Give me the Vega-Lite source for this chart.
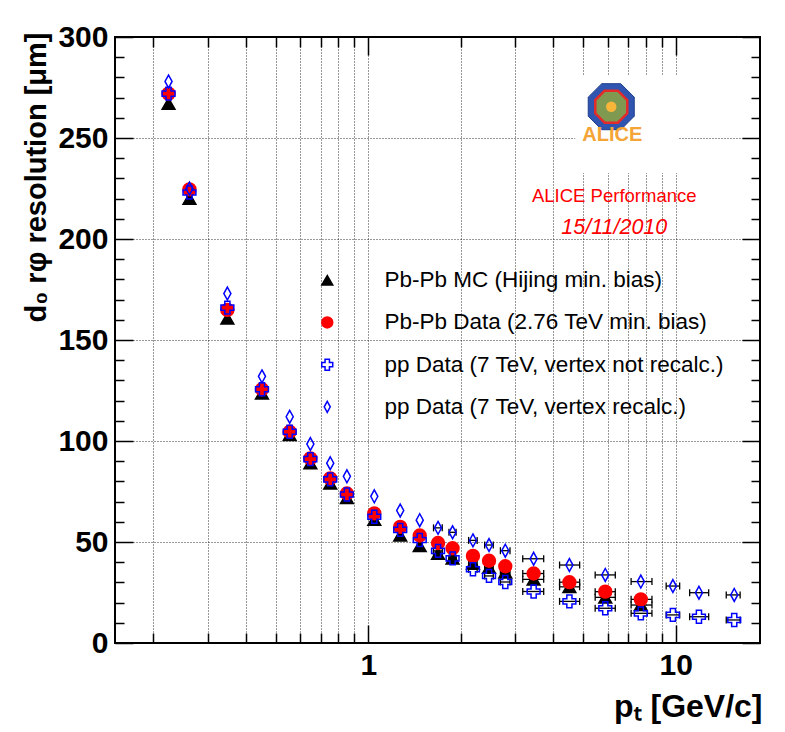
{
  "$schema": "https://vega.github.io/schema/vega-lite/v6.json",
  "width": 645,
  "height": 606,
  "autosize": {"type": "none"},
  "padding": {"left": 115, "top": 37, "right": 25, "bottom": 89},
  "background": "white",
  "config": {
    "font": "Liberation Sans",
    "view": {"stroke": "#000", "strokeWidth": 2},
    "axis": {"domain": false, "tickColor": "#000", "tickWidth": 1.5}
  },
  "datasets": {
    "pts": [
      {"s": "mc", "pt": 0.224, "res": 267},
      {"s": "mc", "pt": 0.262, "res": 220},
      {"s": "mc", "pt": 0.348, "res": 160.7},
      {"s": "mc", "pt": 0.451, "res": 123.6},
      {"s": "mc", "pt": 0.555, "res": 103},
      {"s": "mc", "pt": 0.648, "res": 89},
      {"s": "mc", "pt": 0.752, "res": 79},
      {"s": "mc", "pt": 0.852, "res": 71.8},
      {"s": "mc", "pt": 1.046, "res": 61},
      {"s": "mc", "pt": 1.27, "res": 53.3},
      {"s": "mc", "pt": 1.47, "res": 48},
      {"s": "mc", "pt": 1.686, "res": 44.2, "lo": 1.63, "hi": 1.74},
      {"s": "mc", "pt": 1.88, "res": 41.9, "lo": 1.83, "hi": 1.93},
      {"s": "mc", "pt": 2.19, "res": 39.4, "lo": 2.12, "hi": 2.26},
      {"s": "mc", "pt": 2.47, "res": 37.3, "lo": 2.39, "hi": 2.55},
      {"s": "mc", "pt": 2.79, "res": 34.9, "lo": 2.69, "hi": 2.89},
      {"s": "mc", "pt": 3.45, "res": 31.5, "lo": 3.18, "hi": 3.72},
      {"s": "mc", "pt": 4.51, "res": 27.8, "lo": 4.19, "hi": 4.87},
      {"s": "mc", "pt": 5.9, "res": 22.6, "lo": 5.47, "hi": 6.36},
      {"s": "mc", "pt": 7.7, "res": 18.8, "lo": 7.16, "hi": 8.37},
      {"s": "pb", "pt": 0.224, "res": 272},
      {"s": "pb", "pt": 0.262, "res": 224.6},
      {"s": "pb", "pt": 0.348, "res": 164.9},
      {"s": "pb", "pt": 0.451, "res": 125.6},
      {"s": "pb", "pt": 0.555, "res": 104.6},
      {"s": "pb", "pt": 0.648, "res": 91.4},
      {"s": "pb", "pt": 0.752, "res": 81.5},
      {"s": "pb", "pt": 0.852, "res": 74},
      {"s": "pb", "pt": 1.046, "res": 64.2},
      {"s": "pb", "pt": 1.27, "res": 57.5},
      {"s": "pb", "pt": 1.47, "res": 53.2},
      {"s": "pb", "pt": 1.686, "res": 49.5, "lo": 1.63, "hi": 1.74},
      {"s": "pb", "pt": 1.88, "res": 46.9, "lo": 1.83, "hi": 1.93},
      {"s": "pb", "pt": 2.19, "res": 43.1, "lo": 2.12, "hi": 2.26},
      {"s": "pb", "pt": 2.47, "res": 40.7, "lo": 2.39, "hi": 2.55},
      {"s": "pb", "pt": 2.79, "res": 38, "lo": 2.69, "hi": 2.89},
      {"s": "pb", "pt": 3.45, "res": 34.4, "lo": 3.18, "hi": 3.72},
      {"s": "pb", "pt": 4.51, "res": 30.1, "lo": 4.19, "hi": 4.87},
      {"s": "pb", "pt": 5.9, "res": 25.4, "lo": 5.47, "hi": 6.36},
      {"s": "pb", "pt": 7.7, "res": 21.6, "lo": 7.16, "hi": 8.37},
      {"s": "ppn", "pt": 0.224, "res": 272},
      {"s": "ppn", "pt": 0.262, "res": 223},
      {"s": "ppn", "pt": 0.348, "res": 166},
      {"s": "ppn", "pt": 0.451, "res": 125.6},
      {"s": "ppn", "pt": 0.555, "res": 104.6},
      {"s": "ppn", "pt": 0.648, "res": 91},
      {"s": "ppn", "pt": 0.752, "res": 81},
      {"s": "ppn", "pt": 0.852, "res": 73.5},
      {"s": "ppn", "pt": 1.046, "res": 62.5},
      {"s": "ppn", "pt": 1.27, "res": 56},
      {"s": "ppn", "pt": 1.47, "res": 51},
      {"s": "ppn", "pt": 1.686, "res": 45.6, "lo": 1.63, "hi": 1.74},
      {"s": "ppn", "pt": 1.88, "res": 41.9, "lo": 1.83, "hi": 1.93},
      {"s": "ppn", "pt": 2.19, "res": 36.5, "lo": 2.12, "hi": 2.26},
      {"s": "ppn", "pt": 2.47, "res": 33.2, "lo": 2.39, "hi": 2.55},
      {"s": "ppn", "pt": 2.79, "res": 30.2, "lo": 2.69, "hi": 2.89},
      {"s": "ppn", "pt": 3.45, "res": 25.5, "lo": 3.18, "hi": 3.72},
      {"s": "ppn", "pt": 4.51, "res": 20.6, "lo": 4.19, "hi": 4.87},
      {"s": "ppn", "pt": 5.9, "res": 17.2, "lo": 5.47, "hi": 6.36},
      {"s": "ppn", "pt": 7.7, "res": 14.7, "lo": 7.16, "hi": 8.37},
      {"s": "ppn", "pt": 9.79, "res": 13.9, "lo": 9.31, "hi": 10.3},
      {"s": "ppn", "pt": 11.9, "res": 13, "lo": 11.1, "hi": 12.8},
      {"s": "ppn", "pt": 15.5, "res": 11.4, "lo": 14.6, "hi": 16.2},
      {"s": "ppr", "pt": 0.224, "res": 278},
      {"s": "ppr", "pt": 0.262, "res": 225},
      {"s": "ppr", "pt": 0.348, "res": 173},
      {"s": "ppr", "pt": 0.451, "res": 132},
      {"s": "ppr", "pt": 0.555, "res": 112},
      {"s": "ppr", "pt": 0.648, "res": 98.5},
      {"s": "ppr", "pt": 0.752, "res": 89},
      {"s": "ppr", "pt": 0.852, "res": 82.5},
      {"s": "ppr", "pt": 1.046, "res": 72.6},
      {"s": "ppr", "pt": 1.27, "res": 65.6},
      {"s": "ppr", "pt": 1.47, "res": 60.8},
      {"s": "ppr", "pt": 1.686, "res": 57, "lo": 1.63, "hi": 1.74},
      {"s": "ppr", "pt": 1.88, "res": 54.8, "lo": 1.83, "hi": 1.93},
      {"s": "ppr", "pt": 2.19, "res": 50.8, "lo": 2.12, "hi": 2.26},
      {"s": "ppr", "pt": 2.47, "res": 48.5, "lo": 2.39, "hi": 2.55},
      {"s": "ppr", "pt": 2.79, "res": 45.7, "lo": 2.69, "hi": 2.89},
      {"s": "ppr", "pt": 3.45, "res": 41.7, "lo": 3.18, "hi": 3.72},
      {"s": "ppr", "pt": 4.51, "res": 38.6, "lo": 4.19, "hi": 4.87},
      {"s": "ppr", "pt": 5.9, "res": 33.7, "lo": 5.47, "hi": 6.36},
      {"s": "ppr", "pt": 7.7, "res": 30.4, "lo": 7.16, "hi": 8.37},
      {"s": "ppr", "pt": 9.79, "res": 28.2, "lo": 9.31, "hi": 10.3},
      {"s": "ppr", "pt": 11.9, "res": 24.9, "lo": 11.1, "hi": 12.8},
      {"s": "ppr", "pt": 15.5, "res": 23.8, "lo": 14.6, "hi": 16.2}
    ],
    "box": [{"pt": 4.71, "pt2": 10.2, "res": 232.7, "res2": 281.2}],
    "logo": [{"pt": 6.17, "res": 265.5}],
    "alice": [{"pt": 6.22, "res": 251.5, "label": "ALICE"}],
    "perf": [{"pt": 6.31, "res": 221.3, "label": "ALICE Performance"}],
    "date": [{"pt": 6.31, "res": 205.4, "label": "15/11/2010"}]
  },
  "layer": [
    {
      "data": {"name": "box"},
      "mark": {"type": "rect", "fill": "white", "strokeWidth": 0},
      "encoding": {
        "x": {"field": "pt", "type": "quantitative", "scale": {"type": "log", "domain": [0.15, 18.8], "nice": false},
          "axis": {"orient": "top", "values": [0.2,0.3,0.4,0.5,0.6,0.7,0.8,0.9,1,2,3,4,5,6,7,8,9,10], "labels": false, "grid": false, "title": null,
            "tickSize": {"condition": {"test": "datum.value==1||datum.value==10", "value": -18}, "value": -10}}},
        "x2": {"field": "pt2"},
        "y": {"field": "res", "type": "quantitative", "scale": {"domain": [0, 300], "nice": false, "zero": false},
          "axis": {"orient": "right", "values": [0,10,20,30,40,50,60,70,80,90,100,110,120,130,140,150,160,170,180,190,200,210,220,230,240,250,260,270,280,290,300], "labels": false, "grid": false, "title": null,
            "tickSize": {"condition": {"test": "datum.value % 50 == 0", "value": -18}, "value": -9}}},
        "y2": {"field": "res2"}
      }
    },
    {
      "data": {"name": "pts"},
      "transform": [{"filter": "datum.lo != null"}],
      "mark": {"type": "rule", "color": "#000", "strokeWidth": 1.3},
      "encoding": {
        "x": {"field": "lo", "type": "quantitative", "scale": {"type": "log", "domain": [0.15, 18.8], "nice": false}, "axis": null},
        "x2": {"field": "hi"},
        "y": {"field": "res", "type": "quantitative", "scale": {"domain": [0, 300], "nice": false, "zero": false}, "axis": null}
      }
    },
    {
      "data": {"name": "pts"},
      "transform": [{"filter": "datum.lo != null"}],
      "mark": {"type": "tick", "orient": "vertical", "color": "#000", "size": 7, "thickness": 1.3, "opacity": 1},
      "encoding": {
        "x": {"field": "lo", "type": "quantitative", "scale": {"type": "log", "domain": [0.15, 18.8], "nice": false}, "axis": null},
        "y": {"field": "res", "type": "quantitative", "scale": {"domain": [0, 300], "nice": false, "zero": false}, "axis": null}
      }
    },
    {
      "data": {"name": "pts"},
      "transform": [{"filter": "datum.lo != null"}],
      "mark": {"type": "tick", "orient": "vertical", "color": "#000", "size": 7, "thickness": 1.3, "opacity": 1},
      "encoding": {
        "x": {"field": "hi", "type": "quantitative", "scale": {"type": "log", "domain": [0.15, 18.8], "nice": false}, "axis": null},
        "y": {"field": "res", "type": "quantitative", "scale": {"domain": [0, 300], "nice": false, "zero": false}, "axis": null}
      }
    },
    {
      "data": {"name": "pts"},
      "mark": {"type": "point", "size": 165, "strokeWidth": 1.5, "opacity": 1},
      "encoding": {
        "x": {"field": "pt", "type": "quantitative", "scale": {"type": "log", "domain": [0.15, 18.8], "nice": false},
          "axis": {"orient": "bottom", "values": [0.2,0.3,0.4,0.5,0.6,0.7,0.8,0.9,1,2,3,4,5,6,7,8,9,10],
            "labelExpr": "datum.value==1 ? '1' : datum.value==10 ? '10' : ''",
            "labelFont": "Liberation Sans", "labelFontSize": 30, "labelFontWeight": "bold", "labelColor": "#000",
            "labelPadding": 25, "labelOverlap": false, "labelFlush": false, "labelBound": false,
            "grid": true, "gridColor": "#000", "gridDash": [1, 2], "gridWidth": 1, "gridOpacity": 0.8,
            "tickSize": {"condition": {"test": "datum.value==1||datum.value==10", "value": -18}, "value": -10},
            "title": "pₜ [GeV/c]", "titleFont": "Liberation Sans", "titleFontSize": 32, "titleFontWeight": "bold", "titleColor": "#000",
            "titleAlign": "right", "titleBaseline": "alphabetic", "titleX": 647, "titleY": 73}},
        "y": {"field": "res", "type": "quantitative", "scale": {"domain": [0, 300], "nice": false, "zero": false},
          "axis": {"orient": "left", "values": [0,10,20,30,40,50,60,70,80,90,100,110,120,130,140,150,160,170,180,190,200,210,220,230,240,250,260,270,280,290,300],
            "labelExpr": "datum.value % 50 == 0 ? datum.label : ''",
            "labelFont": "Liberation Sans", "labelFontSize": 30, "labelFontWeight": "bold", "labelColor": "#000",
            "labelPadding": 25, "labelOverlap": false, "labelFlush": false, "labelBound": false,
            "grid": true, "gridColor": "#000", "gridDash": [1, 2], "gridWidth": 1,
            "gridOpacity": {"condition": {"test": "datum.value % 50 == 0 && datum.value > 0 && datum.value < 300", "value": 0.8}, "value": 0},
            "tickSize": {"condition": {"test": "datum.value % 50 == 0", "value": -18}, "value": -9},
            "title": "d₀ rφ resolution [μm]", "titleFont": "Liberation Sans", "titleFontSize": 29, "titleFontWeight": "bold", "titleColor": "#000",
            "titleAngle": 270, "titleAlign": "right", "titleBaseline": "middle", "titleX": -79, "titleY": -5}},
        "shape": {"field": "s", "type": "nominal",
          "scale": {"domain": ["mc", "pb", "ppn", "ppr"], "range": ["triangle-up", "circle", "cross", "M0,-1L0.55,0L0,1L-0.55,0Z"]},
          "legend": {"orient": "none", "legendX": 201, "legendY": 232, "title": null,
            "labelExpr": "datum.value=='mc' ? 'Pb-Pb MC (Hijing min. bias)' : datum.value=='pb' ? 'Pb-Pb Data (2.76 TeV min. bias)' : datum.value=='ppn' ? 'pp Data (7 TeV, vertex not recalc.)' : 'pp Data (7 TeV, vertex recalc.)'",
            "labelFont": "Liberation Sans", "labelFontSize": 22.5, "labelColor": "#000", "labelLimit": 0,
            "labelOffset": 46, "symbolSize": 120, "symbolStrokeWidth": 1.5, "rowPadding": 19.2, "padding": 0}},
        "fill": {"field": "s", "type": "nominal",
          "scale": {"domain": ["mc", "pb", "ppn", "ppr"], "range": ["#000000", "#ff0000", "transparent", "transparent"]}},
        "stroke": {"field": "s", "type": "nominal",
          "scale": {"domain": ["mc", "pb", "ppn", "ppr"], "range": ["#000000", "#ff0000", "#0000ff", "#0000ff"]}}
      }
    },
    {
      "data": {"name": "logo"},
      "mark": {"type": "point", "shape": "M-0.414,-1L0.414,-1L1,-0.414L1,0.414L0.414,1L-0.414,1L-1,0.414L-1,-0.414Z", "size": 2116, "fill": "#2f55b0", "stroke": "#1d3c8c", "strokeWidth": 1, "opacity": 1},
      "encoding": {
        "x": {"field": "pt", "type": "quantitative", "scale": {"type": "log", "domain": [0.15, 18.8], "nice": false}, "axis": null},
        "y": {"field": "res", "type": "quantitative", "scale": {"domain": [0, 300], "nice": false, "zero": false}, "axis": null}
      }
    },
    {
      "data": {"name": "logo"},
      "mark": {"type": "point", "shape": "M-0.414,-1L0.414,-1L1,-0.414L1,0.414L0.414,1L-0.414,1L-1,0.414L-1,-0.414Z", "size": 1024, "fill": "#7f9a50", "stroke": "#e52a2a", "strokeWidth": 2.5, "opacity": 1},
      "encoding": {
        "x": {"field": "pt", "type": "quantitative", "scale": {"type": "log", "domain": [0.15, 18.8], "nice": false}, "axis": null},
        "y": {"field": "res", "type": "quantitative", "scale": {"domain": [0, 300], "nice": false, "zero": false}, "axis": null}
      }
    },
    {
      "data": {"name": "logo"},
      "mark": {"type": "point", "shape": "circle", "size": 110, "fill": "#f7b53a", "strokeWidth": 0, "opacity": 1},
      "encoding": {
        "x": {"field": "pt", "type": "quantitative", "scale": {"type": "log", "domain": [0.15, 18.8], "nice": false}, "axis": null},
        "y": {"field": "res", "type": "quantitative", "scale": {"domain": [0, 300], "nice": false, "zero": false}, "axis": null}
      }
    },
    {
      "data": {"name": "alice"},
      "mark": {"type": "text", "font": "Liberation Sans", "fontSize": 20, "fontWeight": "bold", "color": "#f5a436", "align": "center", "baseline": "middle"},
      "encoding": {
        "x": {"field": "pt", "type": "quantitative", "scale": {"type": "log", "domain": [0.15, 18.8], "nice": false}, "axis": null},
        "y": {"field": "res", "type": "quantitative", "scale": {"domain": [0, 300], "nice": false, "zero": false}, "axis": null},
        "text": {"field": "label"}
      }
    },
    {
      "data": {"name": "perf"},
      "mark": {"type": "text", "font": "Liberation Sans", "fontSize": 18.5, "color": "#ff0000", "align": "center", "baseline": "middle"},
      "encoding": {
        "x": {"field": "pt", "type": "quantitative", "scale": {"type": "log", "domain": [0.15, 18.8], "nice": false}, "axis": null},
        "y": {"field": "res", "type": "quantitative", "scale": {"domain": [0, 300], "nice": false, "zero": false}, "axis": null},
        "text": {"field": "label"}
      }
    },
    {
      "data": {"name": "date"},
      "mark": {"type": "text", "font": "Liberation Sans", "fontSize": 21.5, "fontStyle": "italic", "color": "#ff0000", "align": "center", "baseline": "middle"},
      "encoding": {
        "x": {"field": "pt", "type": "quantitative", "scale": {"type": "log", "domain": [0.15, 18.8], "nice": false}, "axis": null},
        "y": {"field": "res", "type": "quantitative", "scale": {"domain": [0, 300], "nice": false, "zero": false}, "axis": null},
        "text": {"field": "label"}
      }
    }
  ],
  "resolve": {"axis": {"x": "independent", "y": "independent"}}
}
